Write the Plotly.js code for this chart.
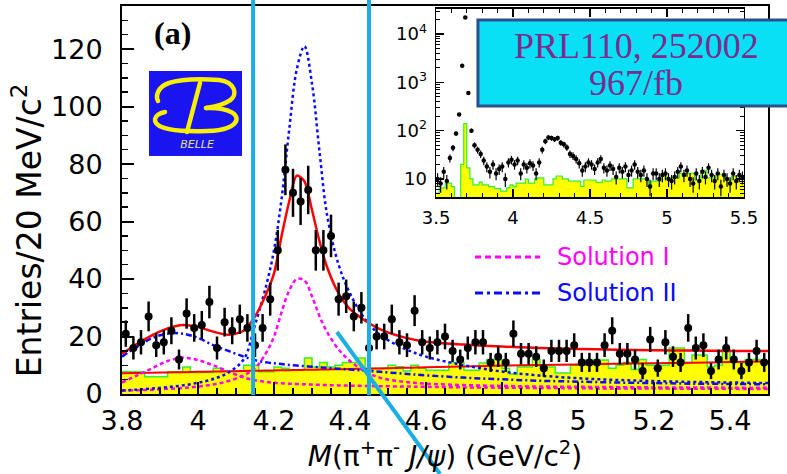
<!DOCTYPE html>
<html><head><meta charset="utf-8">
<script src="https://cdn.plot.ly/plotly-3.0.1.min.js"></script>
<style>html,body{margin:0;padding:0;background:#fff}#chart{width:787px;height:474px}</style>
</head><body><div id="chart"></div>
<script>
// ---------- Main plot: M(pi+ pi- J/psi), 20 MeV bins from 3.80 to 5.50 ----------
const mainEdge0 = 3.80, binW = 0.02;
const dataCounts = [21,16,18,27,17,18,22,12,28,23,
  24,32,16,25,22,26,23,17,23,33,
  50,78,70,67,71,50,50,55,33,34,
  27,30,16,20,20,26,18,17,29,18,
  16,18,20,15,12,16,18,18,11,13,
  11,21,14,14,13,9,15,15,15,17,
  11,11,11,17,22,14,14,12,8,19,
  9,18,13,11,23,16,17,8,12,16,
  12,8,11,15,11];
const sidebandHist = [7.7,7.7,7.7,6,6,6,7.7,7.7,9.4,7.5,
  7.5,7.5,9,8,8,8,10,10,7.7,7.7,
  9.4,9,8.3,8.3,12.5,9.4,11,9.4,10,11,
  11,12.5,8.3,9,9,10,9.5,8,10,9,
  8.3,8.3,8.3,11,11,8.3,8.3,10.8,12,12,
  9,7,9.4,9.4,12,9.4,9.4,7.3,7.3,10,
  10,11.8,11.8,11.8,9,10,11,8.5,12,10,
  9,10,16,16,11,13.6,13.6,9.5,10,15.3,
  11,11,12,12,11];
// fit curves sampled at these masses
const curveMass = [3.80,3.84,3.88,3.92,3.96,4.00,4.04,4.08,4.12,4.15,4.18,4.20,4.22,4.24,4.26,4.28,4.30,4.32,4.34,4.37,4.40,4.44,4.48,4.54,4.60,4.70,4.80,4.90,5.00,5.10,5.20,5.30,5.40,5.50];
const fitTotal  = [14,17.5,20.5,22.8,24,23.3,21.7,20.6,22,27,35,42,55,67,76,74,64,53,44,35,29.5,25.5,22.5,19.8,18.2,17.2,16.5,16,15.7,15.4,15.2,15.1,15,15];
const fitBkg    = [7.2,7.3,7.4,7.5,7.6,7.7,7.8,7.9,8.0,8.1,8.15,8.2,8.25,8.3,8.35,8.4,8.45,8.5,8.55,8.6,8.7,8.8,8.9,9.1,9.3,9.6,9.9,10.1,10.3,10.5,10.7,10.9,11.1,11.3];
const sol1Y4260 = [1.2,1.3,1.5,1.8,2.1,2.6,3.3,4.5,6.5,9,14.5,20,28.5,36,40,39.5,34,27,21.5,15.5,11.5,7.8,5.6,4.3,3.6,3.1,2.8,2.6,2.5,2.4,2.3,2.3,2.2,2.2];
const sol1Y4008 = [4,6.5,9,11.5,12.6,11.8,10,7.8,5.8,4.8,4.2,3.9,3.7,3.6,3.5,3.4,3.3,3.2,3.1,3,2.9,2.8,2.7,2.6,2.5,2.3,2.2,2.1,2,1.9,1.9,1.8,1.8,1.7];
const sol2Y4260 = [1.2,1.5,1.9,2.4,3,3.9,5.2,7.5,12,24,38,50,68,92,113,121,108,84,62,45,35,26,20.5,16,13,10,7.8,6.4,5.5,4.9,4.5,4.2,4,3.8];
const sol2Y4008 = [13,16.5,19.5,21,21,19.5,17,15,13,11.8,11,10.7,10.4,10.1,9.9,9.7,9.5,9.3,9.1,8.8,8.5,8.1,7.7,7.1,6.5,5.7,5.1,4.6,4.3,4.0,3.8,3.6,3.5,3.4];

// ---------- Inset: full range, log scale, 20 MeV bins from 3.50 to 5.50 ----------
const insetEdge0 = 3.50;
const insetCounts = [10,8,14,9,27,44,87,215,2200,22000,
  600,100,50,40,33,24,18,14,20,13,
  16,18,10,22,25,20,24,13,20,17,
  21,19,13,22,40,60,72,70,66,70,
  56,52,45,33,30,26,21,15,18,22,
  20,16,22,26,17,15,19,16,11,17,
  14,18,12,15,20,14,12,15,10,7,
  13,13,10,12,13,10,9,11,14,18,
  12,15,10,8,13,9,14,11,17,12,
  9,13,7,12,10,8,13,9,12,11];
const insetHist = [5.1,6.5,6.5,8.2,8.2,6.9,3.5,3.5,20,140,
  17,10,7.5,7.5,8.6,7.5,7.5,6.9,6.9,6.3,
  6.3,5.6,5.6,6.5,7.5,6.9,8.2,8.2,8.2,9.9,
  8.2,8.2,10,10.5,10.5,7.5,7.5,7.5,10,11.5,
  11.5,10,10,9,9,9,9,7,9.5,9.5,
  9.5,9.5,8.5,8.5,9.5,9,9,10,10,10,
  10,10,6.5,6.5,10,10,10,10,10,6.5,
  9,9,9,11.5,11.5,10.5,10.5,10.5,10.5,13,
  13,13,13,13,9.5,9.5,15,15,10.5,10.5,
  10.5,12.5,12.5,12.5,9.5,9.5,11.5,11.5,11.5,11.5];

const xTickLabels = ['3.8','4','4.2','4.4','4.6','4.8','5','5.2','5.4'];
const insetYTickVals = [10,100,1000,10000];
const insetYTickText = ['10','10<sup>2</sup>','10<sup>3</sup>','10<sup>4</sup>'];

// ---------- helpers ----------
function centers(e0, n){ const a=[]; for(let i=0;i<n;i++) a.push(+(e0+binW*(i+0.5)).toFixed(3)); return a; }
function steps(e0, vals){ const xs=[], ys=[]; for(let i=0;i<vals.length;i++){ xs.push(+(e0+binW*i).toFixed(3)); ys.push(vals[i]); } xs.push(+(e0+binW*vals.length).toFixed(3)); ys.push(vals[vals.length-1]); return {xs, ys}; }

const mainMass = centers(mainEdge0, dataCounts.length);
const insetMass = centers(insetEdge0, insetCounts.length);
const hMain = steps(mainEdge0, sidebandHist);
const hIn = steps(insetEdge0, insetHist);

const FONT = 'DejaVu Sans';
const RED = '#ff0000', MAG = '#ff00ff', BLUE = '#0a0aff', YEL = '#ffff00', GRN = '#33f033', CYAN = '#1aaee3';

const traces = [
  {x:hMain.xs, y:hMain.ys, type:'scatter', mode:'lines', line:{shape:'hv', color:GRN, width:1.5}, fill:'tozeroy', fillcolor:YEL, xaxis:'x', yaxis:'y', hoverinfo:'skip'},
  {x:curveMass, y:fitBkg, type:'scatter', mode:'lines', line:{color:RED, width:2, shape:'spline'}, xaxis:'x', yaxis:'y'},
  {x:curveMass, y:sol1Y4008, type:'scatter', mode:'lines', line:{color:MAG, width:2.5, dash:'4px,3px', shape:'spline'}, xaxis:'x', yaxis:'y'},
  {x:curveMass, y:sol1Y4260, type:'scatter', mode:'lines', line:{color:MAG, width:2.5, dash:'4px,3px', shape:'spline'}, xaxis:'x', yaxis:'y'},
  {x:curveMass, y:sol2Y4008, type:'scatter', mode:'lines', line:{color:BLUE, width:2.5, dash:'6px,3px,2px,3px', shape:'spline'}, xaxis:'x', yaxis:'y'},
  {x:curveMass, y:sol2Y4260, type:'scatter', mode:'lines', line:{color:BLUE, width:2.5, dash:'3px,3px', shape:'spline'}, xaxis:'x', yaxis:'y'},
  {x:curveMass, y:fitTotal, type:'scatter', mode:'lines', line:{color:RED, width:2.5, shape:'spline', smoothing:0.8}, xaxis:'x', yaxis:'y'},
  {x:mainMass, y:dataCounts, type:'scatter', mode:'markers', marker:{color:'#000', size:8}, error_y:{type:'sqrt', color:'#000', thickness:2.5, width:0}, xaxis:'x', yaxis:'y'},
  {x:hIn.xs, y:hIn.ys, type:'scatter', mode:'lines', line:{shape:'hv', color:GRN, width:1.2}, fill:'tozeroy', fillcolor:YEL, xaxis:'x2', yaxis:'y2'},
  {x:insetMass, y:insetCounts, type:'scatter', mode:'markers', marker:{color:'#000', size:4.5}, error_y:{type:'sqrt', color:'#000', thickness:1.2, width:0}, xaxis:'x2', yaxis:'y2'}
];

const logoSvg = "<svg xmlns='http://www.w3.org/2000/svg' width='93' height='85' viewBox='0 0 93 85'>" +
  "<rect width='93' height='85' fill='#1a14f0'/>" +
  "<g fill='none' stroke='#f8f000' stroke-width='4.5' stroke-linecap='round'>" +
  "<path d='M9 30 C6 24 10 15 20 12 C32 8 55 8 70 9 C86 11 90 24 80 30 C74 34 64 36 57 37'/>" +
  "<path d='M57 37 C80 36 92 44 86 52 C80 60 60 61 40 60 C20 60 5 56 6 48 C7 44 11 42 16 41'/>" +
  "<path d='M51 12 L38 61'/></g>" +
  "<text x='48' y='77' font-family='DejaVu Sans' font-style='italic' font-size='11' fill='#e0e090' text-anchor='middle'>BELLE</text></svg>";

const layout = {
  width:787, height:474, margin:{l:122, r:19, t:6, b:80, pad:0},
  paper_bgcolor:'#fff', plot_bgcolor:'#fff', showlegend:false,
  font:{family:FONT, color:'#000'},
  xaxis:{domain:[0,1], anchor:'y', range:[3.8,5.5], tickmode:'array', tickvals:[3.8,4.0,4.2,4.4,4.6,4.8,5.0,5.2,5.4], ticktext:xTickLabels,
    showline:true, linewidth:2, linecolor:'#000', mirror:true, ticks:'inside', ticklen:12, tickwidth:2, tickcolor:'#000',
    minor:{dtick:0.05, tick0:3.8, ticks:'inside', ticklen:6, tickwidth:1.5, tickcolor:'#000'},
    tickfont:{family:FONT, size:27, color:'#000'}, ticklabelstandoff:2, showgrid:false, zeroline:false,
    title:{text:'<i>M</i>(π<sup>+</sup>π<sup>-</sup> <i>J/ψ</i>) (GeV/c<sup>2</sup>)', font:{family:FONT, size:28, color:'#000'}, standoff:0}},
  yaxis:{domain:[0,1], anchor:'x', range:[0,135], dtick:20, tick0:0,
    showline:true, linewidth:2, linecolor:'#000', mirror:true, ticks:'inside', ticklen:12, tickwidth:2, tickcolor:'#000',
    minor:{dtick:5, ticks:'inside', ticklen:6, tickwidth:1.5, tickcolor:'#000'},
    tickfont:{family:FONT, size:27, color:'#000'}, ticklabelstandoff:12, showgrid:false, zeroline:false},
  xaxis2:{domain:[0.4861,0.9628], anchor:'y2', range:[3.5,5.5], dtick:0.5, tick0:3.5,
    showline:true, linewidth:1.5, linecolor:'#000', mirror:'allticks', ticks:'inside', ticklen:8, tickwidth:1.5, tickcolor:'#000',
    minor:{dtick:0.1, ticks:'inside', ticklen:4, tickwidth:1, tickcolor:'#000'},
    tickfont:{family:FONT, size:18, color:'#000'}, ticklabelstandoff:4, showgrid:false, zeroline:false},
  yaxis2:{domain:[0.5077,0.9923], anchor:'x2', type:'log', range:[0.625,4.52], tickmode:'array', tickvals:insetYTickVals, ticktext:insetYTickText,
    showline:true, linewidth:1.5, linecolor:'#000', mirror:'allticks', ticks:'inside', ticklen:8, tickwidth:1.5, tickcolor:'#000',
    minor:{dtick:'D1', ticks:'inside', ticklen:4, tickwidth:1, tickcolor:'#000'},
    tickfont:{family:FONT, size:18, color:'#000'}, ticklabelstandoff:4, showgrid:false, zeroline:false},
  shapes:[
    {type:'line', xref:'x', yref:'paper', x0:4.145, x1:4.145, y0:-0.003, y1:1.02, line:{color:CYAN, width:4}, layer:'above'},
    {type:'line', xref:'x', yref:'paper', x0:4.45, x1:4.45, y0:-0.003, y1:1.02, line:{color:CYAN, width:4}, layer:'above'},
    {type:'line', xref:'paper', yref:'paper', x0:0.3328, y0:0.1598, x1:0.4923, y1:-0.206, line:{color:CYAN, width:4}, layer:'above'},
    {type:'rect', xref:'paper', yref:'paper', x0:0.551, x1:1.04, y0:0.742, y1:0.964, fillcolor:'#0ae0f5', line:{color:'#2d4e8e', width:3}, layer:'above'},
    {type:'line', xref:'x', yref:'y', x0:4.729, x1:4.90, y0:47.7, y1:47.7, line:{color:MAG, width:3, dash:'6px,4px'}, layer:'above'},
    {type:'line', xref:'x', yref:'y', x0:4.729, x1:4.90, y0:35.1, y1:35.1, line:{color:BLUE, width:3, dash:'8px,4px,3px,4px'}, layer:'above'}
  ],
  annotations:[
    {xref:'paper', yref:'paper', x:-0.145, y:0.4227, text:'Entries/20 MeV/c<sup>2</sup>', textangle:-90, showarrow:false, xanchor:'center', yanchor:'middle', font:{family:FONT, size:33, color:'#000'}},
    {xref:'x', yref:'y', x:3.879, y:125.6, text:'<b>(a)</b>', showarrow:false, xanchor:'left', yanchor:'middle', font:{family:'Liberation Serif', size:32, color:'#000'}},
    {xref:'x', yref:'y', x:4.939, y:47.7, text:'Solution I', showarrow:false, xanchor:'left', yanchor:'middle', font:{family:FONT, size:24, color:MAG}},
    {xref:'x', yref:'y', x:4.939, y:35.1, text:'Solution II', showarrow:false, xanchor:'left', yanchor:'middle', font:{family:FONT, size:24, color:BLUE}},
    {xref:'x', yref:'y', x:5.153, y:121, text:'PRL110, 252002', showarrow:false, xanchor:'center', yanchor:'middle', font:{family:'Liberation Serif', size:36, color:'#7b2c8f'}},
    {xref:'x', yref:'y', x:5.153, y:108.2, text:'967/fb', showarrow:false, xanchor:'center', yanchor:'middle', font:{family:'Liberation Serif', size:36, color:'#7b2c8f'}}
  ],
  images:[{source:'data:image/svg+xml;charset=utf-8,' + encodeURIComponent(logoSvg), xref:'paper', yref:'paper', x:0.0418, y:0.8325, sizex:0.144, sizey:0.219, xanchor:'left', yanchor:'top', sizing:'stretch', layer:'above'}]
};

Plotly.newPlot('chart', traces, layout, {staticPlot:true, displayModeBar:false});
</script></body></html>
